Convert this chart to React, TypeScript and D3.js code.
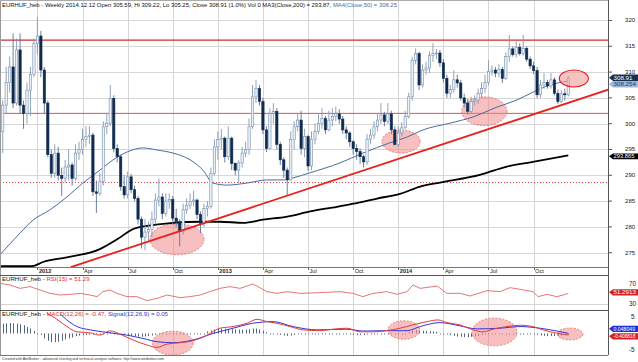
import * as d3 from "d3";

const FONT = "'Liberation Sans', Arial, sans-serif";

// weekly EURHUF candles [open, high, low, close], Fridays from 2011-10-28 to 2014-12-12
const candles: [number, number, number, number][] = [
  [298.5, 304.5, 294.3, 303.6], [303.6, 311.0, 302.0, 308.0], [308.0, 313.0, 306.0, 311.0], [311.0, 317.5, 303.0, 304.0],
  [304.0, 316.5, 303.5, 314.3], [314.3, 317.5, 302.0, 303.6], [303.6, 304.5, 299.0, 302.0], [302.0, 308.0, 300.0, 306.5],
  [306.5, 311.0, 301.5, 309.5], [309.5, 316.5, 309.0, 315.5], [315.5, 320.6, 313.5, 317.0], [317.0, 318.0, 309.0, 310.4],
  [310.4, 311.0, 302.0, 304.0], [304.0, 304.5, 293.5, 294.0], [294.0, 295.0, 289.5, 290.4], [290.4, 296.0, 289.5, 294.3],
  [294.3, 295.5, 289.0, 290.0], [290.0, 291.5, 286.0, 289.4], [289.4, 293.0, 288.5, 291.6], [291.6, 295.0, 289.0, 292.0],
  [292.0, 292.5, 288.0, 289.4], [289.4, 296.0, 289.0, 294.3], [294.3, 296.5, 293.0, 295.0], [295.0, 299.0, 294.0, 296.9],
  [296.9, 299.5, 295.5, 297.5], [297.5, 299.5, 296.0, 297.8], [297.8, 298.2, 286.0, 286.8], [286.8, 289.0, 282.7, 286.5],
  [286.5, 290.5, 286.0, 288.8], [288.8, 300.5, 288.0, 299.4], [299.4, 302.0, 298.0, 300.1], [300.1, 307.5, 299.5, 304.9],
  [304.9, 305.5, 294.5, 295.2], [295.2, 296.0, 292.5, 293.6], [293.6, 294.0, 287.0, 287.8], [287.8, 290.0, 285.5, 286.2],
  [286.2, 290.7, 285.5, 289.7], [289.7, 290.3, 286.5, 287.2], [287.2, 288.0, 285.0, 285.5], [285.5, 286.0, 280.5, 281.5],
  [281.5, 282.0, 275.8, 278.0], [278.0, 281.5, 275.5, 279.0], [279.0, 281.0, 277.0, 279.5], [279.5, 283.0, 278.0, 281.5],
  [281.5, 286.5, 280.5, 285.2], [285.2, 289.4, 284.0, 285.8], [285.8, 286.5, 281.5, 282.6], [282.6, 286.5, 282.0, 285.0],
  [285.0, 286.5, 283.5, 285.3], [285.3, 286.0, 280.5, 281.7], [281.7, 283.5, 280.0, 281.0], [281.0, 281.5, 276.2, 279.1],
  [279.1, 284.5, 278.5, 283.3], [283.3, 285.5, 282.5, 284.2], [284.2, 286.5, 283.5, 284.9], [284.9, 287.0, 284.0, 285.2],
  [285.2, 285.5, 281.5, 282.4], [282.4, 283.0, 278.8, 280.7], [280.7, 284.5, 280.0, 283.6], [283.6, 285.0, 282.0, 284.0],
  [284.0, 291.5, 283.5, 290.4], [290.4, 297.0, 290.0, 295.5], [295.5, 298.5, 293.0, 296.9], [296.9, 299.0, 295.0, 297.2],
  [297.2, 297.5, 292.5, 293.6], [293.6, 299.5, 293.0, 297.2], [297.2, 297.5, 291.0, 292.3], [292.3, 292.5, 290.0, 291.0],
  [291.0, 293.0, 288.5, 292.4], [292.4, 295.5, 291.5, 294.3], [294.3, 296.5, 293.5, 295.0], [295.0, 301.0, 294.0, 299.4],
  [299.4, 307.5, 299.0, 305.2], [305.2, 308.5, 304.0, 306.8], [306.8, 307.5, 303.5, 304.3], [304.3, 305.0, 298.0, 298.8],
  [298.8, 299.5, 294.5, 295.2], [295.2, 303.0, 295.0, 302.0], [302.0, 304.0, 300.0, 302.4], [302.4, 303.0, 295.0, 296.0],
  [296.0, 296.5, 292.0, 293.0], [293.0, 293.5, 289.5, 291.0], [291.0, 291.5, 286.2, 289.1], [289.1, 298.5, 289.0, 296.9],
  [296.9, 300.5, 295.0, 299.4], [299.4, 302.0, 298.5, 300.7], [300.7, 302.5, 294.0, 295.2], [295.2, 299.0, 293.5, 297.5],
  [297.5, 297.8, 290.8, 291.8], [291.8, 298.5, 291.0, 297.0], [297.0, 300.0, 296.0, 298.5], [298.5, 302.0, 298.0, 300.0],
  [300.0, 303.0, 299.0, 301.0], [301.0, 301.5, 298.0, 298.8], [298.8, 302.5, 298.5, 300.7], [300.7, 303.0, 299.5, 301.4],
  [301.4, 303.3, 300.5, 301.9], [301.9, 302.8, 300.0, 300.9], [300.9, 301.5, 298.0, 298.8], [298.8, 299.5, 297.0, 298.2],
  [298.2, 298.5, 295.5, 296.5], [296.5, 296.8, 294.0, 295.2], [295.2, 296.0, 293.0, 294.6], [294.6, 295.2, 292.2, 293.6],
  [293.6, 294.0, 291.5, 292.6], [292.6, 298.0, 292.0, 297.0], [297.0, 299.0, 296.0, 297.8], [297.8, 300.5, 297.0, 299.4],
  [299.4, 302.0, 298.5, 300.7], [300.7, 304.0, 300.0, 301.7], [301.7, 302.3, 299.5, 300.4], [300.4, 304.0, 300.0, 301.9],
  [301.9, 302.5, 298.0, 298.8], [298.8, 299.5, 295.8, 296.0], [296.0, 299.5, 295.5, 298.2], [298.2, 300.3, 297.5, 299.2],
  [299.2, 302.5, 299.0, 301.4], [301.4, 306.0, 301.0, 305.2], [305.2, 313.0, 304.5, 312.3], [312.3, 314.6, 311.5, 313.6],
  [313.6, 314.0, 306.5, 307.5], [307.5, 311.5, 307.0, 310.4], [310.4, 312.0, 309.5, 310.8], [310.8, 314.0, 309.8, 313.2],
  [313.2, 315.6, 312.0, 313.6], [313.6, 314.5, 312.5, 313.7], [313.7, 314.3, 311.0, 311.8], [311.8, 312.5, 308.0, 308.8],
  [308.8, 309.5, 305.0, 305.9], [305.9, 307.5, 305.0, 306.6], [306.6, 310.4, 306.0, 308.5], [308.5, 309.5, 307.0, 307.9],
  [307.9, 308.5, 304.5, 305.0], [305.0, 305.8, 303.2, 304.0], [304.0, 304.8, 301.8, 302.4], [302.4, 305.2, 302.0, 304.3],
  [304.3, 305.5, 303.5, 304.6], [304.6, 306.8, 303.8, 305.9], [305.9, 308.0, 305.0, 306.8], [306.8, 309.5, 306.0, 308.0],
  [308.0, 312.3, 307.5, 310.1], [310.1, 311.3, 309.3, 310.4], [310.4, 311.0, 309.0, 309.8], [309.8, 311.5, 309.0, 310.5],
  [310.5, 311.0, 307.9, 308.8], [308.8, 313.8, 308.5, 313.0], [313.0, 317.2, 312.0, 314.5], [314.5, 315.0, 313.0, 313.4],
  [313.4, 316.0, 312.8, 314.8], [314.8, 315.6, 313.2, 313.6], [313.6, 317.2, 313.2, 314.6], [314.6, 315.0, 312.0, 312.5],
  [312.5, 313.0, 310.6, 311.2], [311.2, 312.0, 309.6, 310.3], [310.3, 311.0, 305.0, 305.6], [305.6, 308.5, 305.0, 307.5],
  [307.5, 309.8, 306.8, 308.0], [308.0, 308.5, 306.8, 307.3], [307.3, 309.8, 306.8, 308.5], [308.5, 309.0, 305.5, 305.9],
  [305.9, 306.6, 303.8, 304.3], [304.3, 306.5, 304.0, 305.8], [305.8, 306.8, 304.5, 305.59], [305.59, 309.22, 305.25, 308.91],
];

// moving averages as [week index, value]
const ma50: [number, number][] = [
  [-0.8, 274.6], [5, 278.8], [8.7, 281.3], [13.6, 283.3], [18.5, 285.8], [23.1, 288.5], [28, 291.0], [31.8, 293.0],
  [35.8, 294.5], [40.4, 295.3], [44.5, 294.9], [49.1, 294.3], [54, 293.0], [57.7, 291.0], [60.6, 288.5], [64.6, 288.1],
  [70.4, 288.5], [76.2, 289.1], [80.8, 289.1], [83.7, 289.5], [88.6, 290.5], [97.2, 292.4], [103.8, 294.3], [111.6, 296.3],
  [116.5, 297.4], [121.1, 298.8], [128.9, 300.1], [135.5, 301.3], [142.4, 303.2], [148.2, 304.6], [152.8, 306.1],
  [157.7, 307.5], [163, 308.254],
];
const ma200: [number, number][] = [
  [-0.8, 272.4], [8.4, 272.4], [11.6, 273.2], [18.5, 274.1], [28, 275.7], [33, 277.6], [37.6, 279.6], [41.6, 280.2],
  [49.1, 280.8], [56.9, 281.0], [62.6, 281.0], [69.3, 280.8], [75, 281.4], [82, 282.0], [88.6, 283.0], [96.3, 283.9],
  [101, 284.5], [107.9, 285.5], [114.5, 286.4], [120.3, 287.8], [126, 288.6], [137.5, 290.1], [145.3, 291.7],
  [152.8, 292.6], [163, 293.865],
];

const trendLine: [number, number][] = [[19.6, 272.2], [174.5, 306.6]];
const resistance = [316.2, 302.0];
const dottedLevel = 288.6;
const priceTicks = [275, 280, 285, 290, 295, 300, 305, 310, 315, 320];

// [week index, value, radius in weeks, radius in price]
const priceCircles: [number, number, number, number][] = [
  [50.2, 277.6, 7.8, 3.0], [114.8, 296.55, 5.5, 2.23], [138.8, 302.4, 6.5, 2.8],
];
const lastCircle: [number, number, number, number] = [164.6, 308.76, 4.2, 1.65];

const rsi: [number, number][] = [
  [-0.8, 71.3], [2.1, 68], [5, 61.3], [7.9, 64.7], [10.8, 58], [13.6, 51.3], [16.5, 48], [19.4, 49.3], [22.3, 51.3],
  [25.2, 48], [27.2, 44.7], [28.9, 54.7], [30.9, 58], [32.9, 51.3], [35.8, 44.7], [38.7, 44.7], [41.6, 36.7],
  [44.5, 41.3], [47.4, 48], [51.1, 42.7], [54, 44.7], [56.9, 48], [59.7, 54.7], [62.6, 61.3], [65.5, 64.7],
  [68.4, 61.3], [72.1, 70], [76.2, 54.7], [79, 51.3], [82, 54.7], [85.7, 51.3], [91.4, 52.7], [97.2, 54.7],
  [101, 51.3], [103.8, 44.7], [106.7, 51.3], [110.7, 54.7], [113.6, 49.3], [116.5, 54.7], [118.2, 68], [120.3, 61.3],
  [125.2, 66], [128, 51.3], [131.8, 51.3], [134.7, 46], [139.6, 56.7], [143.3, 54.7], [146.2, 62.7], [149.1, 59.3],
  [152.8, 54.7], [154.3, 44.7], [156.9, 49.3], [159.7, 44.7], [161.5, 48], [163, 51.29],
];

const macd: [number, number][] = [
  [12.8, 6.0], [14.5, 5.1], [18.5, 2.1], [21.4, 0.5], [25.2, 0.2], [28, -0.5], [30.9, 0.8], [33.8, -0.2],
  [37.6, -2.0], [41.6, -3.5], [44.5, -4.2], [47.4, -3.2], [51.1, -2.8], [54.8, -2.2], [58.9, -0.5], [62.6, 1.6],
  [66.4, 2.1], [70.4, 3.1], [73.3, 4.3], [76.2, 3.6], [79, 3.1], [82.8, 2.1], [86.6, 1.1], [91.4, 0.85],
  [95.2, 1.3], [99.2, 1.6], [103, 0.5], [106.7, 0.5], [110.7, 0.85], [114.5, 1.6], [118.2, 2.6], [122.3, 3.6],
  [125.5, 4.1], [128, 3.3], [131.8, 2.6], [135.5, 1.1], [138.4, 0.5], [141.3, 1.3], [145.3, 2.1], [149.1, 2.5],
  [152.8, 2.1], [155.7, 1.1], [159.7, 0.1], [163, -0.47],
];
const signal: [number, number][] = [
  [16.5, 6.0], [17.4, 5.1], [21.4, 2.1], [25.2, 1.1], [30.9, 0.2], [35.8, -0.5], [40.4, -1.5], [44.5, -2.5],
  [49.1, -2.8], [54.8, -2.0], [60.6, 0.0], [66.4, 1.6], [72.1, 3.1], [77.9, 3.6], [83.7, 2.1], [90.6, 1.1],
  [99.2, 1.3], [103.8, 0.75], [110.7, 0.85], [116.5, 0.85], [120.3, 2.1], [126, 3.3], [131.8, 2.3], [136.7, 1.4],
  [143.3, 1.6], [149.1, 2.1], [154.8, 1.6], [159.7, 0.75], [163, 0.05],
];
// histogram, one bar per week
const histogram = [
  3.0, 3.1, 3.2, 3.1, 3.0, 2.8, 2.5, 2.0, 1.5, 0.8, 0.2, -0.4, -1.5, -2.2, -2.6, -2.6, -2.5, -2.2, -1.8, -1.5, -1.2,
  -0.8, -0.6, -0.5, -0.5, -0.4, -0.3, -0.3, -0.2, 0.1, 0.3, 0.4, 0.2, -0.2, -0.4, -0.5, -0.6, -0.7, -0.8, -0.9, -1.0,
  -0.9, -0.8, -0.6, -0.4, -0.3, -0.2, -0.1, 0, 0.1, 0.1, 0, 0.1, 0.2, 0.3, 0.3, 0.2, 0.2, 0.3, 0.6, 0.9, 1.2, 1.4,
  1.5, 1.5, 1.4, 1.3, 1.2, 1.2, 1.1, 1.2, 1.3, 1.5, 1.5, 1.2, 0.8, 0.4, 0.2, 0.1, -0.2, -0.4, -0.6, -0.7, -0.6, -0.4,
  -0.2, -0.1, 0, 0.1, 0.1, 0.2, 0.2, 0.3, 0.3, 0.2, 0.2, 0.2, 0.1, 0, -0.2, -0.3, -0.4, -0.5, -0.5, -0.5, -0.3, -0.2,
  -0.1, 0, 0, 0, 0, 0, -0.1, -0.1, 0, 0.1, 0.4, 0.8, 1.0, 0.9, 0.8, 0.8, 0.7, 0.6, 0.5, 0.3, 0.1, -0.2, -0.5, -0.7,
  -0.9, -1.0, -1.1, -1.1, -1.0, -0.9, -0.7, -0.5, -0.3, -0.1, 0, 0.1, 0.1, 0.1, 0.2, 0.2, 0.3, 0.3, 0.3, 0.2, 0.1, 0,
  -0.2, -0.4, -0.6, -0.7, -0.8, -0.8, -0.8, -0.7, -0.6, -0.5, -0.45,
];
const macdCircles: [number, number, number, number][] = [
  [49, -2.9, 5.9, 3.6], [115.6, 1.06, 4.6, 2.8], [141.7, 0.45, 6.5, 4.2], [163.5, -0.15, 3.7, 1.8],
];

const firstWeek = new Date(2011, 9, 28);

export default function App() {
  const W = 638;
  const H = 362;
  const right = 608;
  const main = { top: 0, bottom: 267 };
  const rsiP = { top: 275, bottom: 310 };
  const macdP = { top: 310, bottom: 355 };

  const x = d3.scaleLinear().domain([-0.78, 174.44]).range([0, right]);
  const y = d3.scaleLinear().domain([272.23, 323.97]).range([main.bottom, main.top]);
  const yR = d3.scaleLinear().domain([18, 88]).range([rsiP.bottom, rsiP.top]);
  const yM = d3.scaleLinear().domain([-6.52, 7.12]).range([macdP.bottom, macdP.top]);

  const weeks = candles.map((_, i) => d3.timeWeek.offset(firstWeek, i));
  const ticks = weeks
    .map((d, i) => ({ d, i }))
    .filter(({ d, i }) => i > 0 && d.getMonth() % 3 === 0 && weeks[i - 1].getMonth() !== d.getMonth());
  const fmtMonth = d3.timeFormat("%b");

  const linePrice = d3.line<[number, number]>().x((d) => x(d[0])).y((d) => y(d[1])).curve(d3.curveMonotoneX);
  const lineRsi = d3.line<[number, number]>().x((d) => x(d[0])).y((d) => yR(d[1]));
  const lineMacd = d3.line<[number, number]>().x((d) => x(d[0])).y((d) => yM(d[1])).curve(d3.curveMonotoneX);

  const grid = "#d6d6d6";
  const last = candles[candles.length - 1];

  const valueBox = (yc: number, label: string, fill: string, color: string, fs = 6.2, hh = 3.2) => (
    <g>
      <path
        d={`M${right + 1},${yc} L${right + 5},${yc - hh} L${W},${yc - hh} L${W},${yc + hh} L${right + 5},${yc + hh} Z`}
        fill={fill}
      />
      <text x={right + 5.5} y={yc + 2.1} fontSize={fs} fill={color} fontFamily={FONT}>
        {label}
      </text>
    </g>
  );

  const yClose = y(last[3]);
  const yMa50 = Math.max(y(ma50[ma50.length - 1][1]), yClose + 6.5);

  return (
    <div style={{ position: "absolute", left: 0, top: 0 }}>
      <svg width={W} height={H} style={{ display: "block", background: "#fff" }} fontFamily={FONT}>
        <defs>
          <clipPath id="clipMain">
            <rect x={0} y={main.top} width={right} height={main.bottom - main.top} />
          </clipPath>
          <clipPath id="clipMacd">
            <rect x={0} y={macdP.top} width={right} height={macdP.bottom - macdP.top} />
          </clipPath>
        </defs>

        {/* grid */}
        {priceTicks.map((t) => (
          <line key={"h" + t} x1={0} x2={right} y1={Math.round(y(t)) + 0.5} y2={Math.round(y(t)) + 0.5} stroke={grid} />
        ))}
        <line x1={0} x2={right} y1={Math.round(yR(30)) + 0.5} y2={Math.round(yR(30)) + 0.5} stroke={grid} />
        {ticks.map(({ i }) => {
          const xx = Math.round(x(i)) + 0.5;
          return (
            <g key={"v" + i}>
              <line x1={xx} x2={xx} y1={main.top} y2={main.bottom} stroke={grid} />
              <line x1={xx} x2={xx} y1={rsiP.top} y2={macdP.bottom} stroke={grid} />
              <line x1={xx} x2={xx} y1={main.bottom} y2={main.bottom + 3} stroke="#666" />
            </g>
          );
        })}

        <g clipPath="url(#clipMain)">
          {/* horizontal levels */}
          <line x1={0} x2={right} y1={y(resistance[0])} y2={y(resistance[0])} stroke="#d42a2a" strokeWidth={1.4} />
          <line x1={0} x2={right} y1={y(resistance[1])} y2={y(resistance[1])} stroke="#e05050" strokeWidth={1} />
          <line x1={0} x2={right} y1={y(dottedLevel)} y2={y(dottedLevel)} stroke="#e04040" strokeWidth={1} strokeDasharray="1,2" />

          {/* highlighted zones */}
          {priceCircles.map(([ci, cv, rx, ry], k) => (
            <ellipse
              key={"pc" + k}
              cx={x(ci)}
              cy={y(cv)}
              rx={x(ci + rx) - x(ci)}
              ry={y(cv - ry) - y(cv)}
              fill="#f08a8a"
              fillOpacity={0.55}
              stroke="#e06a6a"
              strokeDasharray="2,1.5"
              strokeWidth={0.8}
            />
          ))}

          {/* moving averages */}
          <path d={linePrice(ma200) ?? ""} fill="none" stroke="#000" strokeWidth={1.8} />
          <path d={linePrice(ma50) ?? ""} fill="none" stroke="#4a6c9e" strokeWidth={1} />

          {/* candles */}
          {candles.map(([o, h, l, c], i) => {
            const cx = x(i);
            const up = c >= o;
            const top = y(Math.max(o, c));
            const bot = y(Math.min(o, c));
            return (
              <g key={"c" + i}>
                <line x1={cx} x2={cx} y1={y(h)} y2={y(l)} stroke={up ? "#8299b4" : "#5c7391"} strokeWidth={0.9} />
                <rect
                  x={cx - 1.15}
                  y={top}
                  width={2.3}
                  height={Math.max(0.8, bot - top)}
                  fill={up ? "#edf2f8" : "#0f2b50"}
                  stroke={up ? "#7690ae" : "#0f2b50"}
                  strokeWidth={0.6}
                />
              </g>
            );
          })}

          {/* trend line */}
          <line
            x1={x(trendLine[0][0])}
            y1={y(trendLine[0][1])}
            x2={x(trendLine[1][0])}
            y2={y(trendLine[1][1])}
            stroke="#e3241c"
            strokeWidth={1.8}
          />

          <ellipse
            cx={x(lastCircle[0])}
            cy={y(lastCircle[1])}
            rx={x(lastCircle[0] + lastCircle[2]) - x(lastCircle[0])}
            ry={y(lastCircle[1] - lastCircle[3]) - y(lastCircle[1])}
            fill="#f29a9a"
            fillOpacity={0.6}
            stroke="#d92020"
            strokeWidth={1.1}
          />
        </g>

        {/* RSI */}
        <path d={lineRsi(rsi) ?? ""} fill="none" stroke="#e05252" strokeWidth={0.8} />

        {/* MACD */}
        <g clipPath="url(#clipMacd)">
          {histogram.map((v, i) => {
            const xx = Math.round(x(i)) + 0.5;
            const y0 = yM(0);
            const dy = yM(v) - y0;
            return (
              <line key={"hb" + i} x1={xx} x2={xx} y1={y0} y2={y0 + (Math.abs(dy) < 1 ? 1 : dy)} stroke="#52667f" strokeWidth={1} />
            );
          })}
          {macdCircles.map(([ci, cv, rx, ry], k) => (
            <ellipse
              key={"mc" + k}
              cx={x(ci)}
              cy={yM(cv)}
              rx={x(ci + rx) - x(ci)}
              ry={yM(cv - ry) - yM(cv)}
              fill="#f08a8a"
              fillOpacity={0.55}
              stroke="#e06a6a"
              strokeDasharray="2,1.5"
              strokeWidth={0.8}
            />
          ))}
          <path d={lineMacd(signal) ?? ""} fill="none" stroke="#3535e0" strokeWidth={1} />
          <path d={lineMacd(macd) ?? ""} fill="none" stroke="#e23a3a" strokeWidth={1} />
        </g>

        {/* frames */}
        <line x1={0.5} x2={0.5} y1={0} y2={macdP.bottom} stroke="#999" />
        <line x1={0} x2={right} y1={0.5} y2={0.5} stroke="#aaa" />
        <line x1={right + 0.5} x2={right + 0.5} y1={0} y2={macdP.bottom} stroke="#555" />
        <line x1={0} x2={right} y1={main.bottom + 0.5} y2={main.bottom + 0.5} stroke="#777" />
        <line x1={0} x2={right} y1={rsiP.top + 0.5} y2={rsiP.top + 0.5} stroke="#555" />
        <line x1={0} x2={right} y1={macdP.top + 0.5} y2={macdP.top + 0.5} stroke="#555" />
        <line x1={0} x2={right} y1={macdP.bottom + 0.5} y2={macdP.bottom + 0.5} stroke="#777" />

        {/* date labels */}
        {ticks.map(({ d, i }) => (
          <text
            key={"t" + i}
            x={x(i) + 1.5}
            y={main.bottom + 6}
            fontSize={5.6}
            fontWeight={d.getMonth() === 0 ? "bold" : "normal"}
            fill="#222"
          >
            {d.getMonth() === 0 ? d.getFullYear() : fmtMonth(d)}
          </text>
        ))}

        {/* price axis */}
        {priceTicks.map((t) => (
          <g key={"pt" + t}>
            <line x1={right} x2={right + 4} y1={y(t)} y2={y(t)} stroke="#555" />
            <text x={625} y={y(t) + 2} fontSize={6.1} fill="#222">
              {t}
            </text>
          </g>
        ))}
        {[70, 30].map((t) => (
          <text key={"rt" + t} x={629} y={yR(t) + 2.2} fontSize={6.3} fill="#222">
            {t}
          </text>
        ))}
        {[5, -5].map((t) => (
          <text key={"mt" + t} x={t < 0 ? 629 : 631} y={yM(t) + 2.2} fontSize={6.3} fill="#222">
            {t}
          </text>
        ))}

        {valueBox(yClose, last[3].toFixed(2), "#17304f", "#fff")}
        {valueBox(yMa50, String(ma50[ma50.length - 1][1]), "#9fb8d8", "#1d3a66")}
        {valueBox(y(ma200[ma200.length - 1][1]) + 1, ma200[ma200.length - 1][1].toFixed(3), "#000", "#fff", 5.8, 2.9)}
        {valueBox(yR(51.2913) - 1, "51.2913", "#d42323", "#fff")}
        {valueBox(yM(0.048049) - 4.5, "0.048049", "#1f2fd6", "#fff", 5.2)}
        {valueBox(yM(-0.406818) + 1.5, "-0.406818", "#d42323", "#fff", 4.9)}

        {/* titles */}
        <text x={2} y={6.5} fontSize={5.9} fill="#111">
          EURHUF_heb - Weekly 2014.12.12  Open {last[0]}, Hi {last[1]}, Lo {last[2]}, Close {last[3]} (1.0%) Vol 0
          MA3(Close,200) = 293.87, <tspan fill="#4a6c9e">MA4(Close,50) = 308.25</tspan>
        </text>
        <text x={2} y={rsiP.top + 6} fontSize={6.1} fill="#111">
          EURHUF_heb - <tspan fill="#e03030">RSI(15) = 51.29</tspan>
        </text>
        <text x={2} y={macdP.top + 6} fontSize={6.1} fill="#111">
          EURHUF_heb - <tspan fill="#e03030">MACD(12,26) = -0.47</tspan>,{" "}
          <tspan fill="#3535e0">Signal(12,26,9) = 0.05</tspan>
        </text>
        <text x={2} y={360} fontSize={3.6} fill="#333" textLength={162} lengthAdjust="spacingAndGlyphs">
          Created with AmiBroker - advanced charting and technical analysis software. http://www.amibroker.com
        </text>
      </svg>
    </div>
  );
}
